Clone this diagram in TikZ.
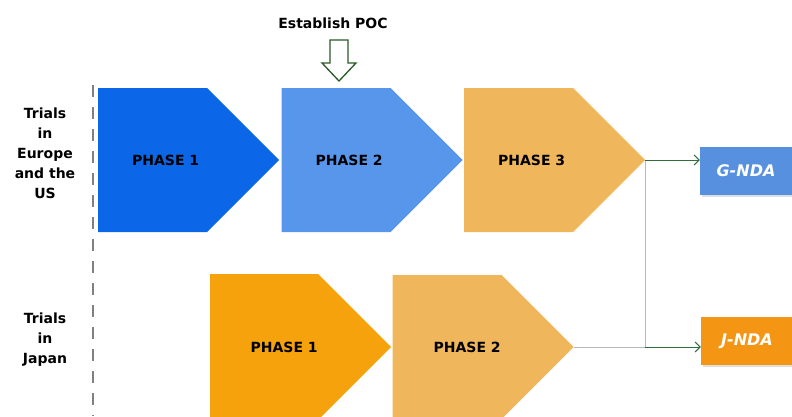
\documentclass[tikz,border=0pt]{standalone}
\usepackage{fontspec}
\setmainfont{DejaVu Sans}
\usepackage{tikz}
\usetikzlibrary{arrows.meta, positioning, shapes.symbols, shadows}

\definecolor{euone}{RGB}{12,102,232}
\definecolor{eutwo}{RGB}{88,150,236}
\definecolor{sand}{RGB}{240,182,92}
\definecolor{amber}{RGB}{246,162,12}
\definecolor{ndablue}{RGB}{86,144,222}
\definecolor{ndaorange}{RGB}{244,150,20}
\definecolor{pocgreen}{RGB}{40,90,40}
\definecolor{linkgreen}{RGB}{50,110,60}

\begin{document}
\begin{tikzpicture}[x=1pt, y=-1pt,
      phase/.style={signal, signal to=east, signal pointer angle=90,
        minimum width=181pt, minimum height=144pt, inner sep=0pt,
        font=\bfseries\fontsize{14}{16}\selectfont,
        execute at begin node={\hspace*{#1}}},
      phase/.default=26pt,
      nda/.style={rectangle, minimum width=92pt, minimum height=48pt, text=white,
        font=\bfseries\itshape\fontsize{16}{18}\selectfont,
        drop shadow={shadow xshift=2pt, shadow yshift=-2pt, opacity=.25}},
      trial/.style={align=center, font=\bfseries\fontsize{14}{20}\selectfont},
      link/.style={draw=gray!55, line width=0.8pt},
      go/.style={draw=linkgreen, line width=1pt, -{Straight Barb[length=5pt, width=10pt]}}]
    \useasboundingbox (0,0) rectangle (792,416);

    % divider between labels and phases
    \draw[gray, line width=2.5pt, dash pattern=on 12pt off 10pt] (93,85) -- (93,416);

    \node (eulabel) [trial] at (45,153) {Trials\\in\\Europe\\and the\\US};
    \node (jplabel) [trial] at (45,340) {Trials\\in\\Japan};

    % trials in Europe and the US
    \node (eu1) [phase, fill=euone, anchor=west] at (98,160) {PHASE 1};
    \node (eu2) [phase, fill=eutwo, right=2pt of eu1] {PHASE 2};
    \node (eu3) [phase, fill=sand, right=1pt of eu2] {PHASE 3};

    % trials in Japan
    \node (jp1) [phase=40pt, fill=amber, anchor=west, minimum height=146pt] at (210,347) {PHASE 1};
    \node (jp2) [phase=40pt, fill=sand, right=1pt of jp1] {PHASE 2};

    \node (gnda) [nda, fill=ndablue] at (746,171) {G-NDA};
    \node (jnda) [nda, fill=ndaorange] at (747,341) {J-NDA};

    % proof of concept
    \node (poc) [font=\bfseries\fontsize{14}{16}\selectfont] at (333,23) {Establish POC};
    \draw[pocgreen, line width=1.3pt, fill=white, line join=miter]
      (330,40) -- (348,40) -- (348,63) -- (356,63) -- (339,81)
      -- (322,63) -- (330,63) -- cycle;

    \draw[link] (eu3.east) -- (eu3.east |- jp2.east) -- (jp2.east);
    \draw[go] (eu3.east) -- (eu3.east -| gnda.west);
    \draw[go] (eu3.east |- jp2.east) -- (jnda.west |- jp2.east);
  \end{tikzpicture}
\end{document}
